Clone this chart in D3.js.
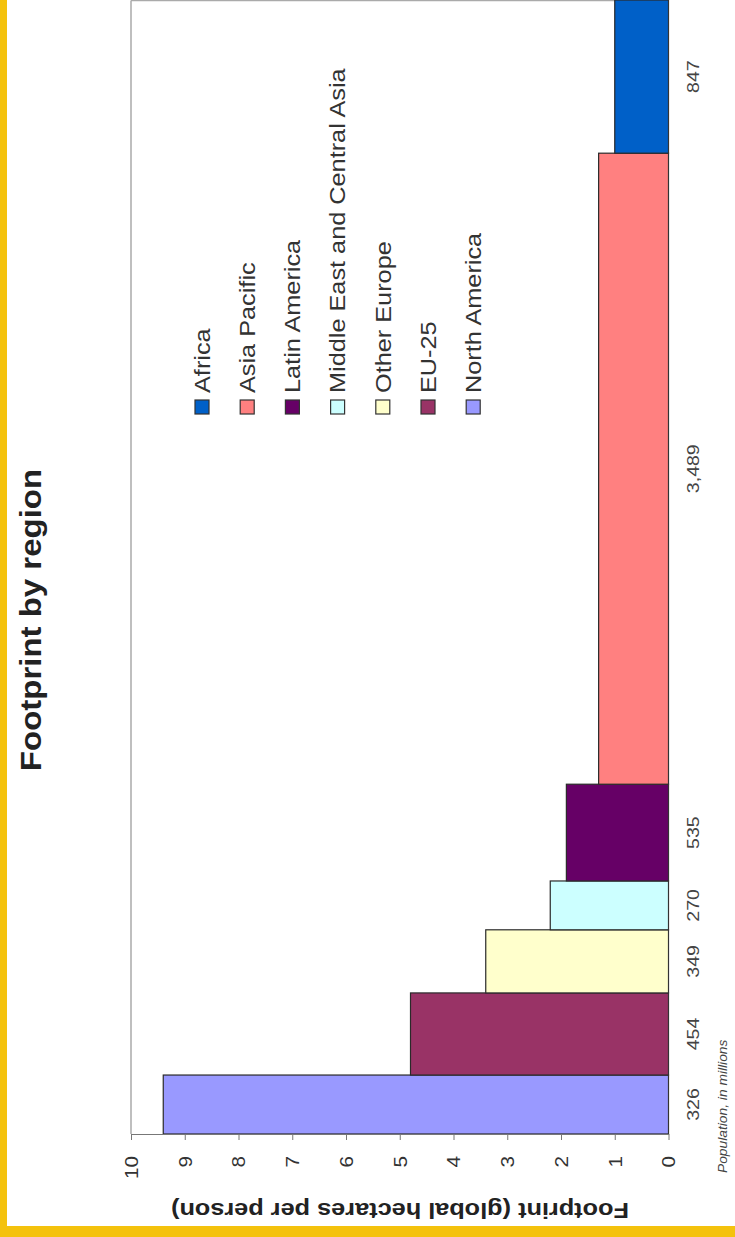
<!DOCTYPE html>
<html>
<head>
<meta charset="utf-8">
<script src="https://cdn.jsdelivr.net/npm/d3@7"></script>
<style>
  body { margin: 0; background: #fff; }
  svg { display: block; }
  svg text { font-family: "Liberation Sans", Arial, sans-serif; }
</style>
</head>
<body>
<svg id="chart" width="735" height="1237"></svg>
<script>
// regions in the order they sit along the population axis
const regions = ["North America", "EU-25", "Other Europe", "Middle East and Central Asia", "Latin America", "Asia Pacific", "Africa"];
const population = [326, 454, 349, 270, 535, 3489, 847]; // millions
const popLabels = ["326", "454", "349", "270", "535", "3,489", "847"];
const footprint = [9.4, 4.8, 3.4, 2.2, 1.9, 1.3, 1.0]; // global hectares per person
const colors = ["#9999ff", "#993366", "#ffffcc", "#ccffff", "#660066", "#ff8080", "#0060c8"];
const legendOrder = ["Africa", "Asia Pacific", "Latin America", "Middle East and Central Asia", "Other Europe", "EU-25", "North America"];
const footprintTicks = [0, 1, 2, 3, 4, 5, 6, 7, 8, 9, 10];

const svg = d3.select("#chart");

// the whole chart is turned a quarter turn: footprint runs right-to-left, population bottom-to-top
const x = d3.scaleLinear().domain([0, 10]).range([668.5, 131]);
const y = d3.scaleLinear().domain([0, d3.sum(population)]).range([1134, 0]);
const color = d3.scaleOrdinal().domain(regions).range(colors);

let cum = 0;
const bars = regions.map((r, i) => {
  const d = { region: r, start: cum, end: cum + population[i], value: footprint[i], label: popLabels[i] };
  cum += population[i];
  return d;
});

// yellow page frame
svg.append("rect").attr("x", 0).attr("y", 0).attr("width", 7).attr("height", 1237).attr("fill", "#f4c20d");
svg.append("rect").attr("x", 0).attr("y", 1226).attr("width", 735).attr("height", 11).attr("fill", "#f4c20d");

// plot frame
svg.append("line").attr("x1", 131).attr("x2", 131).attr("y1", 0.5).attr("y2", 1134)
  .attr("stroke", "#aaa").attr("stroke-width", 1.5);
svg.append("line").attr("x1", 131).attr("x2", 668).attr("y1", 0.5).attr("y2", 0.5)
  .attr("stroke", "#aaa").attr("stroke-width", 1.5);

// bars
svg.append("g").selectAll("rect")
  .data(bars)
  .join("rect")
  .attr("x", d => x(d.value))
  .attr("y", d => y(d.end))
  .attr("width", d => x(0) - x(d.value))
  .attr("height", d => y(d.start) - y(d.end))
  .attr("fill", d => color(d.region))
  .attr("stroke", "#2a2a2a")
  .attr("stroke-width", 1.2);

// footprint axis
const axis = svg.append("g")
  .attr("transform", "translate(0,1134)")
  .call(d3.axisBottom(x).tickValues(footprintTicks).tickSize(6).tickSizeOuter(0).tickFormat(d3.format("d")));
axis.attr("font-family", null);
axis.select(".domain").attr("stroke", "#777").attr("stroke-width", 1.2);
axis.selectAll(".tick line").attr("stroke", "#777");
axis.selectAll(".tick text")
  .attr("x", 0).attr("y", 0).attr("dy", "0.35em")
  .attr("text-anchor", "end")
  .attr("transform", "translate(0,22) rotate(-90) scale(1.15,1)")
  .style("font-size", "18px")
  .attr("fill", "#333");

// category axis line (zero line)
svg.append("line").attr("x1", x(0)).attr("x2", x(0)).attr("y1", 0).attr("y2", 1134)
  .attr("stroke", "#333").attr("stroke-width", 1);

// population labels
svg.append("g").selectAll("text")
  .data(bars)
  .join("text")
  .attr("transform", d => `translate(699,${(y(d.start) + y(d.end)) / 2}) rotate(-90) scale(1.15,1)`)
  .attr("text-anchor", "middle")
  .style("font-size", "17px")
  .attr("fill", "#444")
  .text(d => d.label);

svg.append("text")
  .attr("transform", "translate(727,1173) rotate(-90) scale(1.15,1)")
  .attr("text-anchor", "start")
  .style("font-size", "12px")
  .style("font-style", "italic")
  .attr("fill", "#444")
  .text("Population, in millions");

// titles
svg.append("text")
  .attr("transform", "translate(41,620) rotate(-90) scale(1.1,1)")
  .attr("text-anchor", "middle")
  .style("font-size", "30px")
  .style("font-weight", "bold")
  .attr("fill", "#222")
  .text("Footprint by region");

svg.append("text")
  .attr("transform", "translate(400,1203) rotate(180) scale(1.15,1)")
  .attr("text-anchor", "middle")
  .style("font-size", "22px")
  .style("font-weight", "bold")
  .attr("fill", "#222")
  .text("Footprint (global hectares per person)");

// legend
const legend = svg.append("g").selectAll("g")
  .data(legendOrder)
  .join("g")
  .attr("transform", (d, i) => `translate(${202 + 45.2 * i},0)`);

legend.append("rect")
  .attr("x", -7).attr("y", 400).attr("width", 14).attr("height", 14)
  .attr("fill", d => color(d))
  .attr("stroke", "#333").attr("stroke-width", 1.2);

legend.append("text")
  .attr("transform", "translate(0,393) rotate(-90) scale(1.15,1)")
  .attr("dy", "0.35em")
  .attr("text-anchor", "start")
  .style("font-size", "22px")
  .attr("fill", "#333")
  .text(d => d);
</script>
</body>
</html>
